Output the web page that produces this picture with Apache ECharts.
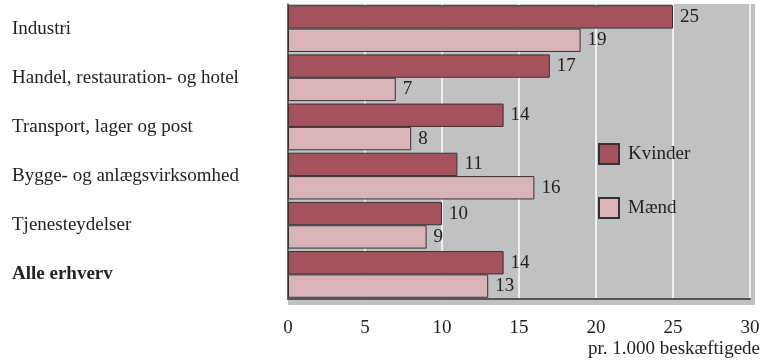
<!DOCTYPE html>
<html>
<head>
<meta charset="utf-8">
<script src="https://cdn.jsdelivr.net/npm/echarts@6/dist/echarts.min.js"></script>
<style>
html,body{margin:0;padding:0;background:#fff;}
#chart{width:768px;height:362px;}
</style>
</head>
<body>
<div id="chart"></div>
<script>
const categories = ['Industri', 'Handel, restauration- og hotel', 'Transport, lager og post', 'Bygge- og anlægsvirksomhed', 'Tjenesteydelser', 'Alle erhverv'];
const kvinder = [25, 17, 14, 11, 10, 14];
const maend = [19, 7, 8, 16, 9, 13];
const seriesNames = ['Kvinder', 'Mænd'];
const xTicks = [0, 5, 10, 15, 20, 25, 30];
const axisName = 'pr. 1.000 beskæftigede';

const FONT = '"Liberation Serif", "DejaVu Serif", serif';
const FS = 19;
const chart = echarts.init(document.getElementById('chart'), null, {renderer: 'canvas'});

const GL = 288, GT = 4, GR = 768 - 750, GB = 362 - 299;

chart.setOption({
  animation: false,
  textStyle: {fontFamily: FONT},
  graphic: [{
    type: 'rect', z: -10, silent: true,
    shape: {x: GL, y: GT, width: 755 - GL, height: 305 - GT},
    style: {fill: '#c0c1c3'}
  }],
  grid: {left: GL, top: GT, right: GR, bottom: GB, containLabel: false},
  legend: {
    orient: 'vertical', left: 593, top: 138,
    icon: 'rect',
    itemWidth: 20, itemHeight: 20, itemGap: 32,
    textStyle: {fontFamily: FONT, fontSize: FS, color: '#222', padding: [2, 0, 0, 4]},
    data: seriesNames
  },
  xAxis: {
    type: 'value', min: xTicks[0], max: xTicks[xTicks.length - 1], interval: 5,
    axisLine: {show: true, onZero: false, lineStyle: {color: '#555', width: 2}},
    axisTick: {show: false},
    splitLine: {show: true, lineStyle: {color: '#ffffff', width: 1.5}},
    axisLabel: {fontFamily: FONT, fontSize: FS, color: '#222', margin: 20},
    name: axisName, nameLocation: 'end',
    nameTextStyle: {fontFamily: FONT, fontSize: FS, color: '#222', align: 'right', verticalAlign: 'top', padding: [41, -10, 0, 0]},
    nameGap: 0
  },
  yAxis: {
    type: 'category', data: categories, inverse: true,
    axisLine: {show: true, lineStyle: {color: '#333', width: 1.5}},
    axisTick: {show: false},
    splitLine: {show: false},
    axisLabel: {
      align: 'left', margin: GL - 12, fontFamily: FONT, fontSize: FS, color: '#222',
      formatter: function (v) { return v === 'Alle erhverv' ? '{b|' + v + '}' : v; },
      rich: {b: {fontFamily: FONT, fontSize: FS, fontWeight: 'bold', color: '#222'}}
    }
  },
  series: [
    {
      name: seriesNames[0], type: 'bar', data: kvinder,
      barGap: '0%', barCategoryGap: '5%',
      itemStyle: {color: '#a5525f', borderColor: '#333', borderWidth: 1},
      label: {show: true, position: 'right', distance: 7, fontFamily: FONT, fontSize: FS, color: '#222'}
    },
    {
      name: seriesNames[1], type: 'bar', data: maend,
      barGap: '0%', barCategoryGap: '5%',
      itemStyle: {color: '#d8b4b8', borderColor: '#333', borderWidth: 1},
      label: {show: true, position: 'right', distance: 7, fontFamily: FONT, fontSize: FS, color: '#222'}
    }
  ]
});
</script>
</body>
</html>
